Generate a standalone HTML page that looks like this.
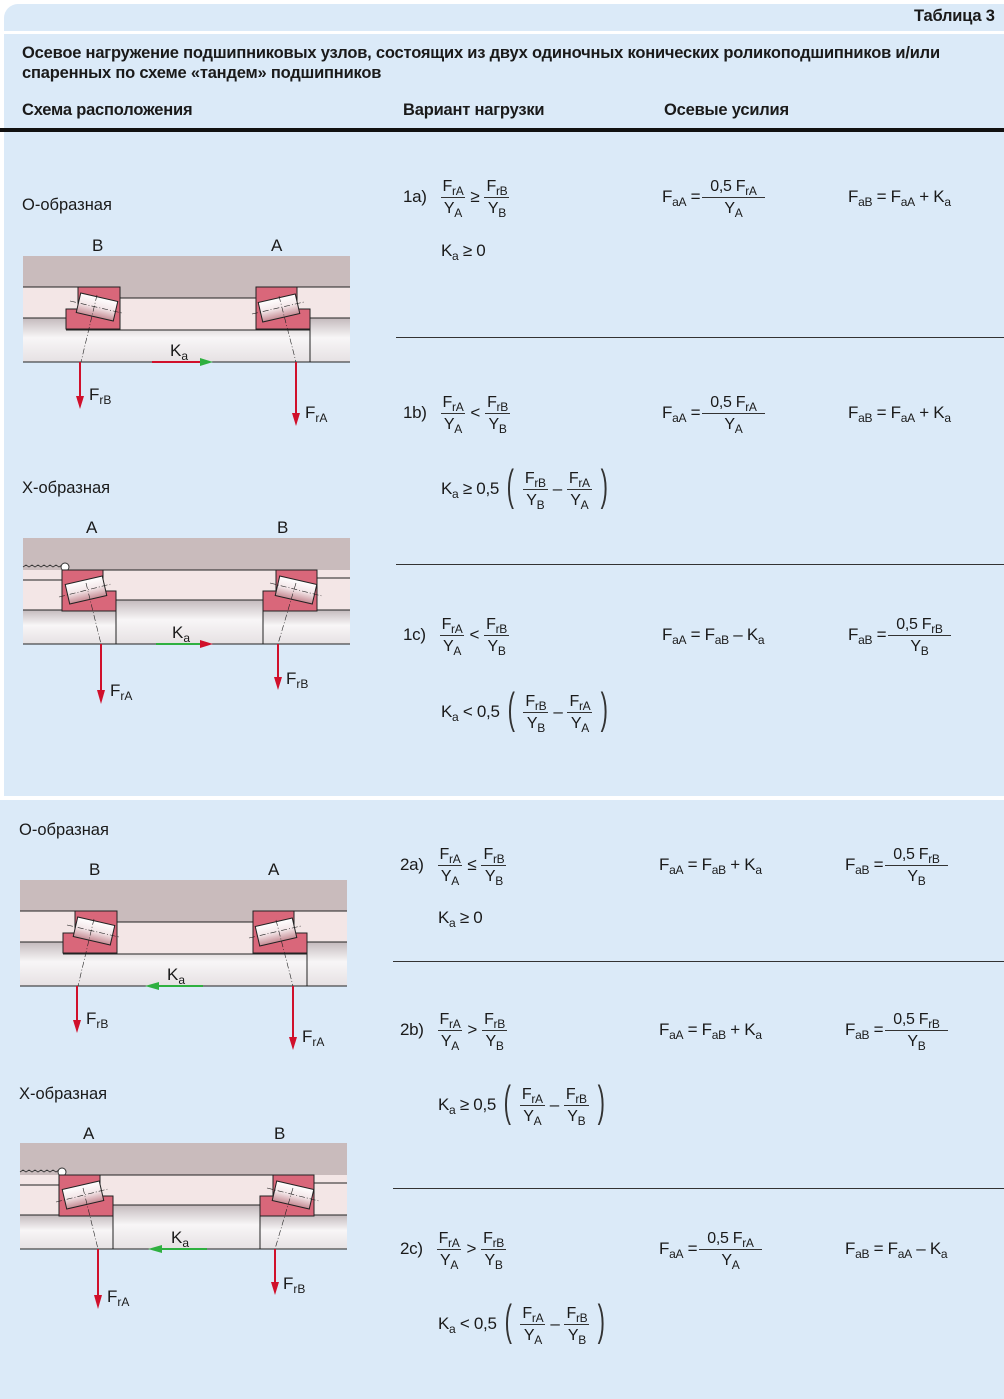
<!DOCTYPE html>
<html><head><meta charset="utf-8"><style>
*{margin:0;padding:0;box-sizing:border-box}
body{width:1004px;height:1399px;position:relative;background:#fff;font-family:"Liberation Sans",sans-serif;color:#1a1a1a;overflow:hidden}
.bg{position:absolute;background:#dbeaf8}
.t{position:absolute;white-space:nowrap}
.h{font-weight:bold;font-size:16.5px;letter-spacing:-0.2px}
.row{position:absolute;height:50px;line-height:50px;font-size:17px;white-space:nowrap;letter-spacing:-0.3px}
.fr{display:inline-flex;flex-direction:column;align-items:center;margin:0 5px;font-size:16px;vertical-align:middle;line-height:normal}
.fr .n{border-bottom:1px solid #333;padding:0 2px;line-height:21px}
.fr .d{line-height:21px}
sub{font-size:12px;vertical-align:-4px;line-height:0}
.p{font-size:44px;font-weight:100;transform:scaleX(0.5);display:inline-block;vertical-align:middle;line-height:44px;color:#333;margin-top:-8px}
.lab{font-size:16.5px}
</style></head><body>
<div class="bg" style="left:4px;top:4px;width:1000px;height:792px;border-top-left-radius:14px"></div>
<div class="bg" style="left:0;top:800px;width:1004px;height:599px"></div>
<div style="position:absolute;left:0;top:31px;width:1004px;height:3px;background:#fff"></div>
<div style="position:absolute;left:0;top:128px;width:1004px;height:4px;background:#111"></div>
<div style="position:absolute;left:396px;top:337px;width:608px;height:1px;background:#333"></div>
<div style="position:absolute;left:396px;top:564px;width:608px;height:1px;background:#333"></div>
<div style="position:absolute;left:393px;top:961px;width:611px;height:1px;background:#333"></div>
<div style="position:absolute;left:393px;top:1188px;width:611px;height:1px;background:#333"></div>

<div class="t h" style="left:914px;top:7px">Таблица 3</div>
<div class="t h" style="left:22px;top:44px">Осевое нагружение подшипниковых узлов, состоящих из двух одиночных конических роликоподшипников и/или</div>
<div class="t h" style="left:22px;top:64px">спаренных по схеме «тандем» подшипников</div>
<div class="t h" style="left:22px;top:101px">Схема расположения</div>
<div class="t h" style="left:403px;top:101px">Вариант нагрузки</div>
<div class="t h" style="left:664px;top:101px">Осевые усилия</div>

<div class="t lab" style="left:22px;top:196px">О-образная</div>
<div class="t lab" style="left:22px;top:479px">Х-образная</div>
<div class="t lab" style="left:19px;top:821px">О-образная</div>
<div class="t lab" style="left:19px;top:1085px">Х-образная</div>

<svg style="position:absolute;left:0;top:0" width="1004" height="1399" viewBox="0 0 1004 1399">
<defs>
<linearGradient id="sh" x1="0" y1="0" x2="0" y2="1"><stop offset="0" stop-color="#c4babd"/><stop offset="0.45" stop-color="#f8f6f7"/><stop offset="1" stop-color="#e6e1e3"/></linearGradient>
<linearGradient id="ro" x1="0" y1="0" x2="0" y2="1"><stop offset="0" stop-color="#fff"/><stop offset="0.5" stop-color="#f3e6e8"/><stop offset="1" stop-color="#c58a93"/></linearGradient>
<g id="O">
<rect x="23" y="256" width="327" height="31" fill="#c9bbbc"/>
<rect x="120" y="287" width="136" height="11" fill="#c9bbbc"/>
<rect x="23" y="287" width="97" height="31" fill="#f3e6e6"/>
<rect x="120" y="298" width="136" height="32" fill="#f3e6e6"/>
<rect x="256" y="287" width="94" height="31" fill="#f3e6e6"/>
<rect x="23" y="318" width="327" height="44" fill="url(#sh)"/>
<rect x="66" y="318" width="244" height="12" fill="#f3e6e6"/>
<path d="M23 287H78M120 298H256M297 287H350M23 318H66M310 318H350M66 330H310M310 318V362M23 362H350" stroke="#222" fill="none" stroke-width="1"/>
<path d="M78 287H120V329H66V309H78Z" fill="#d9677a" stroke="#222"/>
<path d="M256 287H297V309H310V329H256Z" fill="#d9677a" stroke="#222"/>
<rect x="-19" y="-10" width="38" height="20" fill="url(#ro)" stroke="#222" transform="translate(97,307) rotate(13)"/>
<rect x="-19" y="-10" width="38" height="20" fill="url(#ro)" stroke="#222" transform="translate(279,308) rotate(-13)"/>
<path d="M70 301L122 313M97 295L81 362M252 314L304 302M279 296L296 362" stroke="#222" stroke-width="0.6" stroke-dasharray="6 2 1 2" fill="none"/>
<path d="M80 362V398" stroke="#d0102b" stroke-width="2"/><path d="M76 396L80 409L84 396Z" fill="#d0102b"/>
<path d="M296 362V415" stroke="#d0102b" stroke-width="2"/><path d="M292 413L296 426L300 413Z" fill="#d0102b"/>
</g>
<g id="X">
<rect x="23" y="538" width="327" height="32" fill="#c9bbbc"/>
<rect x="23" y="570" width="327" height="40" fill="#f3e6e6"/>
<rect x="23" y="610" width="327" height="34" fill="url(#sh)"/>
<rect x="116" y="600" width="147" height="44" fill="url(#sh)"/>
<path d="M23 567l3 -2l3 2l3 -2l3 2l3 -2l3 2l3 -2l3 2l3 -2l3 2l3 -2l3 2l3 -2" stroke="#333" fill="none" stroke-width="0.8"/>
<circle cx="65" cy="567" r="4" fill="#fff" stroke="#333"/>
<path d="M62 570H317M23 580H62M317 578H350M23 610H62M116 600H263M317 610H350M116 600V644M263 600V644M23 644H350" stroke="#222" fill="none"/>
<path d="M62 570H103V591H116V611H62Z" fill="#d9677a" stroke="#222"/>
<path d="M276 570H317V611H263V591H276Z" fill="#d9677a" stroke="#222"/>
<rect x="-19" y="-10" width="38" height="20" fill="url(#ro)" stroke="#222" transform="translate(86,590) rotate(-13)"/>
<rect x="-19" y="-10" width="38" height="20" fill="url(#ro)" stroke="#222" transform="translate(296,590) rotate(13)"/>
<path d="M59 597L111 584M86 583L101 644M270 583L322 596M296 583L278 644" stroke="#222" stroke-width="0.6" stroke-dasharray="6 2 1 2" fill="none"/>
<path d="M101 644V692" stroke="#d0102b" stroke-width="2"/><path d="M97 690L101 704L105 690Z" fill="#d0102b"/>
<path d="M278 644V679" stroke="#d0102b" stroke-width="2"/><path d="M274 677L278 690L282 677Z" fill="#d0102b"/>
</g>
</defs>
<use href="#O"/>
<use href="#X"/>
<use href="#O" transform="translate(-3,624)"/>
<use href="#X" transform="translate(-3,605)"/>
<path d="M152 362H202" stroke="#d0102b" stroke-width="2"/><path d="M200 358L213 362L200 366Z" fill="#2fb040"/>
<path d="M156 644H202" stroke="#2fb040" stroke-width="2"/><path d="M200 640L213 644L200 648Z" fill="#d0102b"/>
<path d="M157 986H203" stroke="#2fb040" stroke-width="2"/><path d="M159 982L145 986L159 990Z" fill="#2fb040"/>
<path d="M160 1249H207" stroke="#2fb040" stroke-width="2"/><path d="M162 1245L148 1249L162 1253Z" fill="#2fb040"/>
<g font-family="Liberation Sans, sans-serif" font-size="17" fill="#1a1a1a">
<text x="92" y="251">B</text><text x="271" y="251">A</text>
<text x="170" y="356">K<tspan font-size="12" dy="4">a</tspan></text>
<text x="89" y="400">F<tspan font-size="12" dy="4">rB</tspan></text>
<text x="305" y="418">F<tspan font-size="12" dy="4">rA</tspan></text>
<text x="86" y="533">A</text><text x="277" y="533">B</text>
<text x="172" y="638">K<tspan font-size="12" dy="4">a</tspan></text>
<text x="110" y="696">F<tspan font-size="12" dy="4">rA</tspan></text>
<text x="286" y="684">F<tspan font-size="12" dy="4">rB</tspan></text>
<text x="89" y="875">B</text><text x="268" y="875">A</text>
<text x="167" y="980">K<tspan font-size="12" dy="4">a</tspan></text>
<text x="86" y="1024">F<tspan font-size="12" dy="4">rB</tspan></text>
<text x="302" y="1042">F<tspan font-size="12" dy="4">rA</tspan></text>
<text x="83" y="1139">A</text><text x="274" y="1139">B</text>
<text x="171" y="1243">K<tspan font-size="12" dy="4">a</tspan></text>
<text x="107" y="1302">F<tspan font-size="12" dy="4">rA</tspan></text>
<text x="283" y="1289">F<tspan font-size="12" dy="4">rB</tspan></text>
</g>
</svg>

<div class="row" style="left:403px;top:172px">1a)&nbsp;&nbsp;<span class="fr"><span class="n">F<sub>rA</sub></span><span class="d">Y<sub>A</sub></span></span>≥<span class="fr"><span class="n">F<sub>rB</sub></span><span class="d">Y<sub>B</sub></span></span></div>
<div class="row" style="left:441px;top:226px">K<sub>a</sub>&nbsp;≥ 0</div>
<div class="row" style="left:662px;top:172px">F<sub>aA</sub>&nbsp;=<span class="fr" style="margin:0 2px"><span class="n" style="padding:0 8px">0,5 F<sub>rA</sub></span><span class="d">Y<sub>A</sub></span></span></div>
<div class="row" style="left:848px;top:172px">F<sub>aB</sub>&nbsp;= F<sub>aA</sub>&nbsp;+ K<sub>a</sub></div>

<div class="row" style="left:403px;top:388px">1b)&nbsp;&nbsp;<span class="fr"><span class="n">F<sub>rA</sub></span><span class="d">Y<sub>A</sub></span></span>&lt;<span class="fr"><span class="n">F<sub>rB</sub></span><span class="d">Y<sub>B</sub></span></span></div>
<div class="row" style="left:441px;top:464px">K<sub>a</sub>&nbsp;≥ 0,5&nbsp;<span class="p">(</span><span class="fr"><span class="n">F<sub>rB</sub></span><span class="d">Y<sub>B</sub></span></span>–<span class="fr"><span class="n">F<sub>rA</sub></span><span class="d">Y<sub>A</sub></span></span><span class="p">)</span></div>
<div class="row" style="left:662px;top:388px">F<sub>aA</sub>&nbsp;=<span class="fr" style="margin:0 2px"><span class="n" style="padding:0 8px">0,5 F<sub>rA</sub></span><span class="d">Y<sub>A</sub></span></span></div>
<div class="row" style="left:848px;top:388px">F<sub>aB</sub>&nbsp;= F<sub>aA</sub>&nbsp;+ K<sub>a</sub></div>

<div class="row" style="left:403px;top:610px">1c)&nbsp;&nbsp;<span class="fr"><span class="n">F<sub>rA</sub></span><span class="d">Y<sub>A</sub></span></span>&lt;<span class="fr"><span class="n">F<sub>rB</sub></span><span class="d">Y<sub>B</sub></span></span></div>
<div class="row" style="left:441px;top:687px">K<sub>a</sub>&nbsp;&lt; 0,5&nbsp;<span class="p">(</span><span class="fr"><span class="n">F<sub>rB</sub></span><span class="d">Y<sub>B</sub></span></span>–<span class="fr"><span class="n">F<sub>rA</sub></span><span class="d">Y<sub>A</sub></span></span><span class="p">)</span></div>
<div class="row" style="left:662px;top:610px">F<sub>aA</sub>&nbsp;= F<sub>aB</sub>&nbsp;– K<sub>a</sub></div>
<div class="row" style="left:848px;top:610px">F<sub>aB</sub>&nbsp;=<span class="fr" style="margin:0 2px"><span class="n" style="padding:0 8px">0,5 F<sub>rB</sub></span><span class="d">Y<sub>B</sub></span></span></div>

<div class="row" style="left:400px;top:840px">2a)&nbsp;&nbsp;<span class="fr"><span class="n">F<sub>rA</sub></span><span class="d">Y<sub>A</sub></span></span>≤<span class="fr"><span class="n">F<sub>rB</sub></span><span class="d">Y<sub>B</sub></span></span></div>
<div class="row" style="left:438px;top:893px">K<sub>a</sub>&nbsp;≥ 0</div>
<div class="row" style="left:659px;top:840px">F<sub>aA</sub>&nbsp;= F<sub>aB</sub>&nbsp;+ K<sub>a</sub></div>
<div class="row" style="left:845px;top:840px">F<sub>aB</sub>&nbsp;=<span class="fr" style="margin:0 2px"><span class="n" style="padding:0 8px">0,5 F<sub>rB</sub></span><span class="d">Y<sub>B</sub></span></span></div>

<div class="row" style="left:400px;top:1005px">2b)&nbsp;&nbsp;<span class="fr"><span class="n">F<sub>rA</sub></span><span class="d">Y<sub>A</sub></span></span>&gt;<span class="fr"><span class="n">F<sub>rB</sub></span><span class="d">Y<sub>B</sub></span></span></div>
<div class="row" style="left:438px;top:1080px">K<sub>a</sub>&nbsp;≥ 0,5&nbsp;<span class="p">(</span><span class="fr"><span class="n">F<sub>rA</sub></span><span class="d">Y<sub>A</sub></span></span>–<span class="fr"><span class="n">F<sub>rB</sub></span><span class="d">Y<sub>B</sub></span></span><span class="p">)</span></div>
<div class="row" style="left:659px;top:1005px">F<sub>aA</sub>&nbsp;= F<sub>aB</sub>&nbsp;+ K<sub>a</sub></div>
<div class="row" style="left:845px;top:1005px">F<sub>aB</sub>&nbsp;=<span class="fr" style="margin:0 2px"><span class="n" style="padding:0 8px">0,5 F<sub>rB</sub></span><span class="d">Y<sub>B</sub></span></span></div>

<div class="row" style="left:400px;top:1224px">2c)&nbsp;&nbsp;<span class="fr"><span class="n">F<sub>rA</sub></span><span class="d">Y<sub>A</sub></span></span>&gt;<span class="fr"><span class="n">F<sub>rB</sub></span><span class="d">Y<sub>B</sub></span></span></div>
<div class="row" style="left:438px;top:1299px">K<sub>a</sub>&nbsp;&lt; 0,5&nbsp;<span class="p">(</span><span class="fr"><span class="n">F<sub>rA</sub></span><span class="d">Y<sub>A</sub></span></span>–<span class="fr"><span class="n">F<sub>rB</sub></span><span class="d">Y<sub>B</sub></span></span><span class="p">)</span></div>
<div class="row" style="left:659px;top:1224px">F<sub>aA</sub>&nbsp;=<span class="fr" style="margin:0 2px"><span class="n" style="padding:0 8px">0,5 F<sub>rA</sub></span><span class="d">Y<sub>A</sub></span></span></div>
<div class="row" style="left:845px;top:1224px">F<sub>aB</sub>&nbsp;= F<sub>aA</sub>&nbsp;– K<sub>a</sub></div>
</body></html>
